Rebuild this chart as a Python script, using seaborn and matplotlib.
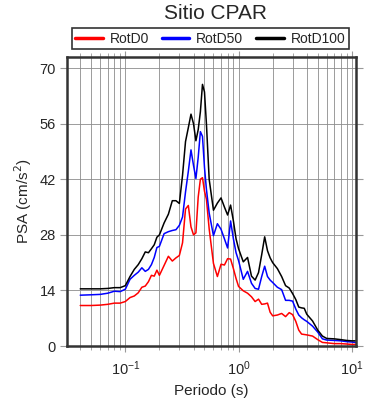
import numpy as np
import pandas as pd
import matplotlib
matplotlib.use("Agg")
import matplotlib.pyplot as plt
import seaborn as sns
from matplotlib.ticker import LogLocator, NullFormatter, FixedLocator
from matplotlib.lines import Line2D

periods = [0.04, 0.05, 0.06, 0.07, 0.08, 0.09, 0.10, 0.11, 0.12, 0.13, 0.14, 0.15,
           0.16, 0.17, 0.18, 0.19, 0.20, 0.22, 0.24, 0.26, 0.28, 0.30, 0.32, 0.34,
           0.36, 0.38, 0.40, 0.42, 0.44, 0.46, 0.48, 0.50, 0.52, 0.55, 0.60, 0.65,
           0.70, 0.75, 0.80, 0.85, 0.90, 0.95, 1.0, 1.1, 1.2, 1.3, 1.4, 1.5, 1.6,
           1.7, 1.8, 1.9, 2.0, 2.2, 2.4, 2.6, 2.8, 3.0, 3.2, 3.4, 3.6, 3.8, 4.0,
           4.5, 5.0, 5.5, 6.0, 7.0, 8.0, 9.0, 10.0, 10.8]

rotd100 = [14.4, 14.4, 14.4, 14.5, 14.7, 14.7, 15.2, 17.5, 19.3, 20.5, 22.0, 23.7,
           23.5, 24.5, 25.5, 27.4, 28.0, 31.0, 33.2, 36.6, 36.6, 35.9, 43.0, 51.5,
           55.0, 58.4, 56.0, 51.7, 54.5, 59.0, 65.9, 64.0, 56.0, 42.0, 34.2, 36.0,
           37.3, 35.0, 33.0, 35.5, 31.5, 27.0, 24.5, 21.2, 22.3, 17.6, 16.6, 18.5, 23.0,
           27.5, 24.0, 22.2, 21.0, 19.5, 17.5, 15.2, 14.6, 13.2, 11.7, 9.8, 9.6, 9.5, 8.0,
           6.3, 4.0, 2.5, 1.9, 1.8, 1.6, 1.4, 1.3, 1.3]

rotd50 = [12.8, 12.9, 13.0, 13.3, 13.8, 13.7, 14.3, 16.8, 17.8, 18.6, 19.7, 18.8,
          19.3, 20.5, 22.3, 24.8, 25.1, 28.3, 28.8, 29.1, 29.3, 30.4, 32.5, 38.8,
          44.0, 49.4, 45.5, 42.2, 47.5, 54.0, 52.8, 45.0, 39.5, 33.5, 27.8, 30.8,
          29.4, 27.0, 24.7, 31.5, 27.0, 23.5, 21.5, 16.8, 18.8, 15.8, 14.5, 14.3, 17.5,
          20.1, 17.5, 16.6, 16.0, 14.8, 14.2, 11.5, 11.5, 11.3, 9.3, 7.8, 7.1, 6.6, 6.2,
          5.0, 3.5, 1.8, 1.5, 1.4, 1.3, 1.1, 1.0, 0.9]

rotd0 = [10.2, 10.2, 10.3, 10.5, 10.8, 10.8, 11.2, 12.2, 12.6, 13.4, 14.8, 15.1,
         16.2, 17.8, 17.6, 19.1, 17.8, 20.3, 22.6, 21.4, 22.2, 22.8, 26.0, 34.5,
         35.4, 30.0, 28.0, 28.5, 37.5, 42.0, 42.4, 39.0, 37.0, 29.5, 20.8, 17.5,
         20.6, 20.4, 22.0, 21.9, 19.5, 17.0, 15.0, 13.9, 13.3, 12.4, 11.2, 11.8, 10.5,
         10.6, 10.8, 8.5, 7.6, 7.8, 8.2, 7.4, 8.4, 7.9, 6.2, 4.0, 3.0, 2.9, 2.8,
         2.5, 1.6, 0.9, 0.8, 0.6, 0.6, 0.5, 0.4, 0.4]

series_names = ["RotD0", "RotD50", "RotD100"]
series_colors = ["#ff0000", "#0000ff", "#000000"]
yticks = [0, 14, 28, 42, 56, 70]

df = pd.concat([
    pd.DataFrame({"Periodo": periods, "PSA": vals, "serie": name})
    for name, vals in zip(series_names, [rotd0, rotd50, rotd100])
])

sns.set_theme(style="white")
plt.rcParams["font.family"] = ["Liberation Sans", "DejaVu Sans"]

fig = plt.figure(figsize=(3.9, 4.0), dpi=100)
ax = fig.add_axes([0.172, 0.135, 0.741, 0.7225])

sns.lineplot(data=df, x="Periodo", y="PSA", hue="serie", hue_order=series_names,
             palette=series_colors, linewidth=1.1, ax=ax, legend=False)

ax.set_xscale("log")
ax.set_xlim(0.0306, 10.9)
ax.set_ylim(0, 72.8)

ax.yaxis.set_major_locator(FixedLocator(yticks))
ax.xaxis.set_major_locator(LogLocator(base=10))
ax.xaxis.set_minor_locator(LogLocator(base=10, subs=np.arange(2, 10)))
ax.xaxis.set_minor_formatter(NullFormatter())

ax.grid(True, which="both", axis="x", color="#8c8c8c", linewidth=0.6)
ax.grid(True, which="major", axis="y", color="#8c8c8c", linewidth=0.6)
ax.set_axisbelow(True)

ax.tick_params(axis="x", which="major", direction="out", length=4, width=0.8,
               color="#999999", labelsize=10.5, top=True, bottom=True, pad=6)
ax.tick_params(axis="x", which="minor", direction="out", length=3, width=0.6,
               color="#999999", top=True, bottom=True)
ax.tick_params(axis="y", which="major", direction="out", length=5, width=0.8,
               color="#999999", labelsize=10.5, left=True, right=True, pad=3)

for sp in ax.spines.values():
    sp.set_color("#333333")
    sp.set_linewidth(1.8)

ax.set_xlabel("Periodo (s)", fontsize=11)
ax.set_ylabel("PSA (cm/s$^2$)", fontsize=11)
fig.text(0.553, 0.966, "Sitio CPAR", ha="center", va="center", fontsize=15)

handles = [Line2D([], [], color=c, linewidth=2.5) for c in series_colors]
leg = fig.legend(handles, series_names, loc="center", bbox_to_anchor=(0.539, 0.903),
                 ncol=3, frameon=True, fancybox=False, fontsize=10,
                 handlelength=2.0, handletextpad=0.5, columnspacing=0.9,
                 borderpad=0.25, borderaxespad=0, edgecolor="black")
leg.get_frame().set_linewidth(1.2)

fig.savefig("out.png", dpi=100)
